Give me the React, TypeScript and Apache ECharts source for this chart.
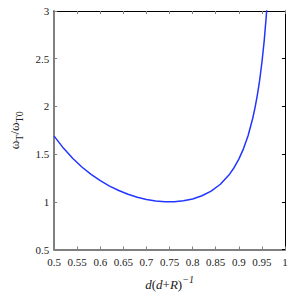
import React, { useEffect, useRef } from "react";
import * as echarts from "echarts";

const xValues = [0.5, 0.52, 0.54, 0.56, 0.58, 0.6, 0.62, 0.64, 0.66, 0.68, 0.7, 0.72, 0.74, 0.75, 0.76, 0.78, 0.8, 0.82, 0.84, 0.86, 0.88, 0.89, 0.9, 0.91, 0.92, 0.93, 0.935, 0.94, 0.945, 0.95, 0.955, 0.96, 0.9605];
const yValues = [1.688, 1.563, 1.456, 1.365, 1.287, 1.221, 1.165, 1.118, 1.079, 1.048, 1.025, 1.009, 1.001, 1.0, 1.001, 1.01, 1.03, 1.063, 1.112, 1.184, 1.29, 1.36, 1.447, 1.555, 1.693, 1.873, 1.985, 2.116, 2.27, 2.46, 2.69, 2.98, 3.013];
const xTicks = { min: 0.5, max: 1, interval: 0.05 };
const yTicks = { min: 0.5, max: 3, interval: 0.5 };

const FONT = "'Liberation Serif', 'Times New Roman', serif";

export default function App() {
  const ref = useRef<HTMLDivElement>(null);
  useEffect(() => {
    if (!ref.current) return;
    const chart = echarts.init(ref.current, undefined, { renderer: "svg" });
    const data = xValues.map((x, i) => [x, yValues[i]]);
    const labelStyle = { fontFamily: FONT, fontSize: 11, color: "#222" };
    chart.setOption({
      animation: false,
      backgroundColor: "#fff",
      grid: { left: 41, right: 8, top: 11, bottom: 42 },
      xAxis: [
        {
          type: "value",
          position: "bottom",
          ...xTicks,
          axisLine: { show: true, lineStyle: { color: "#808080", width: 2 } },
          axisTick: { show: true, inside: true, length: 3, lineStyle: { color: "#808080" } },
          axisLabel: { ...labelStyle, margin: 7, formatter: (v: number) => String(+v.toFixed(2)) },
          splitLine: { show: false },
          name: "{i|d}{n|(}{i|d}{n|+}{i|R}{n|)}{sup|−1}",
          nameLocation: "middle",
          nameGap: 25,
          nameTextStyle: {
            fontFamily: FONT,
            fontSize: 13,
            color: "#222",
            rich: {
              i: { fontFamily: FONT, fontSize: 13, fontStyle: "italic", color: "#222", lineHeight: 20 },
              n: { fontFamily: FONT, fontSize: 13, color: "#222", lineHeight: 20 },
              sup: { fontFamily: FONT, fontSize: 10, fontStyle: "italic", color: "#222", verticalAlign: "top", lineHeight: 20 },
            },
          },
        },
        {
          type: "value",
          position: "top",
          ...xTicks,
          axisLine: { show: true, lineStyle: { color: "#000", width: 1 } },
          axisTick: { show: true, inside: true, length: 3, lineStyle: { color: "#808080" } },
          axisLabel: { show: false },
          splitLine: { show: false },
        },
      ],
      yAxis: [
        {
          type: "value",
          position: "left",
          ...yTicks,
          axisLine: { show: true, lineStyle: { color: "#808080", width: 2 } },
          axisTick: { show: true, inside: true, length: 3, lineStyle: { color: "#808080" } },
          axisLabel: { ...labelStyle, margin: 5, formatter: (v: number) => String(+v.toFixed(2)) },
          splitLine: { show: false },
          name: "{n|ω}{sub|T}{n|/ω}{sub|T0}",
          nameLocation: "middle",
          nameGap: 27,
          nameRotate: 90,
          nameTextStyle: {
            fontFamily: FONT,
            fontSize: 13,
            color: "#222",
            rich: {
              n: { fontFamily: FONT, fontSize: 13, color: "#222", lineHeight: 20 },
              sub: { fontFamily: FONT, fontSize: 10, color: "#222", verticalAlign: "bottom", lineHeight: 20 },
            },
          },
        },
        {
          type: "value",
          position: "right",
          ...yTicks,
          axisLine: { show: true, lineStyle: { color: "#000", width: 1 } },
          axisTick: { show: true, inside: true, length: 3, lineStyle: { color: "#000" } },
          axisLabel: { show: false },
          splitLine: { show: false },
        },
      ],
      series: [
        {
          type: "line",
          data,
          smooth: false,
          showSymbol: false,
          symbol: "none",
          lineStyle: { color: "#2236ff", width: 1.5 },
          clip: true,
        },
      ],
    });
    return () => chart.dispose();
  }, []);
  return <div ref={ref} style={{ width: 293, height: 296, position: "absolute", left: 0, top: 0 }} />;
}
